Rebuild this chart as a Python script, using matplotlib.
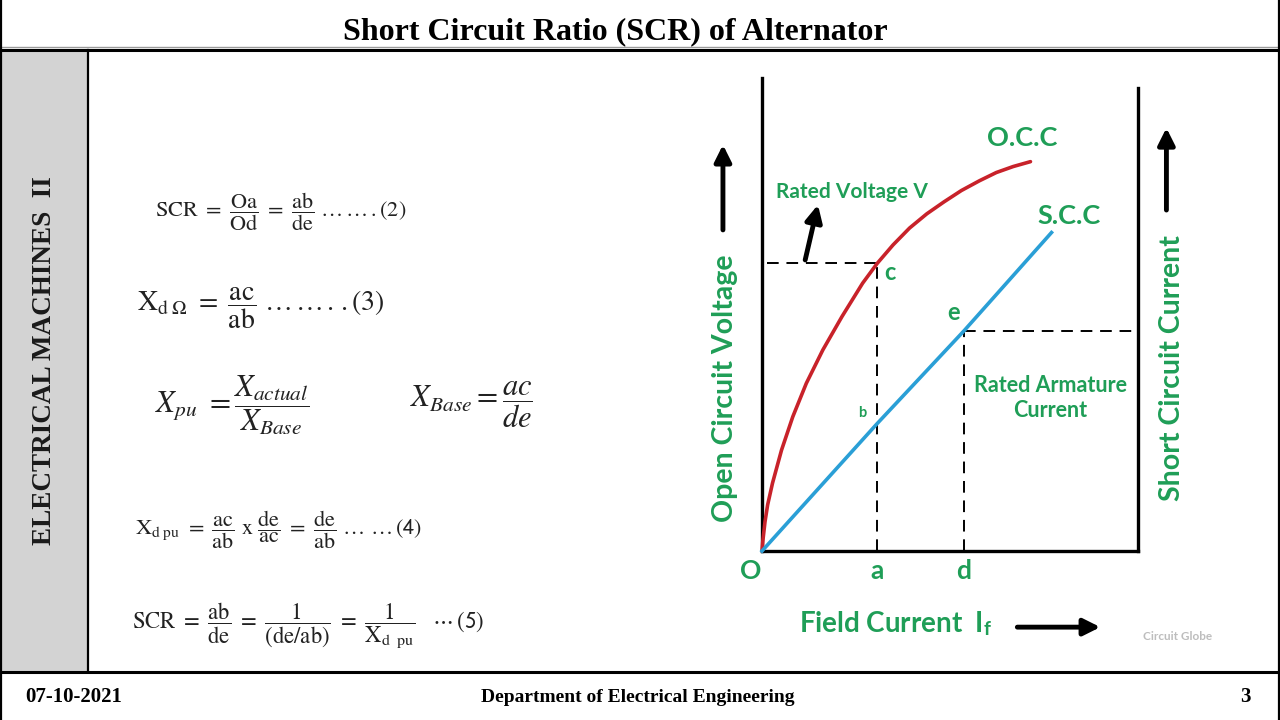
import matplotlib
matplotlib.use("Agg")
import matplotlib.pyplot as plt
from matplotlib.patches import Rectangle

plt.rcParams["mathtext.fontset"] = "stix"

# chart values (arbitrary units)
occ_if = [0, 0.02, 0.08, 0.15, 0.28, 0.52, 0.82, 1.18, 1.62, 2.13, 2.68, 3.07,
          3.49, 3.93, 4.39, 4.85, 5.31, 5.79, 6.24, 6.69, 7.15]
occ_v = [0, 0.25, 0.78, 1.23, 1.81, 2.69, 3.58, 4.47, 5.36, 6.25, 7.14, 7.67,
         8.16, 8.61, 8.99, 9.31, 9.61, 9.87, 10.09, 10.25, 10.38]
scc_if = [0, 3.07, 5.38, 7.71]
scc_i = [0, 3.40, 5.87, 8.49]
point_a = 3.07   # field current for rated voltage
point_c = 7.67   # rated voltage
point_d = 5.38   # field current for rated armature current
point_e = 5.87   # rated armature current
point_b = 3.40

green = "#1f9e57"
sans = "Lato"
serif = "Liberation Serif"

fig = plt.figure(figsize=(12.8, 7.2), dpi=100)

# slide frame, in pixel units
deco = fig.add_axes([0, 0, 1, 1])
deco.set_xlim(0, 1280)
deco.set_ylim(720, 0)
deco.axis("off")
deco.add_patch(Rectangle((0, 50), 88, 622, fc="#d3d3d3", ec="none"))
deco.plot([0, 1280], [46.5, 46.5], color="#9a9a9a", lw=1)
deco.plot([0, 1280], [49.5, 49.5], color="black", lw=2.2)
deco.plot([0, 1280], [672, 672], color="black", lw=2.2)
deco.plot([88, 88], [50, 672], color="black", lw=1.6)
deco.plot([1, 1], [0, 720], color="black", lw=1.6)
deco.plot([1278.5, 1278.5], [0, 720], color="black", lw=1.6)

deco.text(615, 32, "Short Circuit Ratio (SCR) of Alternator", ha="center", va="center",
          fontsize=23, fontweight="bold", family=serif, color="black")
deco.text(45, 361, "ELECTRICAL MACHINES  II", rotation=90, ha="center", va="center",
          fontsize=19.5, fontweight="bold", family=serif, color="#1a1a1a")
deco.text(25, 697, "07-10-2021", ha="left", va="center", fontsize=15, fontweight="bold",
          family=serif)
deco.text(638, 697, "Department of Electrical Engineering", ha="center", va="center",
          fontsize=14, fontweight="bold", family=serif)
deco.text(1245, 697, "3", ha="center", va="center", fontsize=15, fontweight="bold", family=serif)

# equations
eq_color = "#222222"
deco.text(155, 212, r"$\mathrm{SCR}\ =\ \dfrac{\mathrm{Oa}}{\mathrm{Od}}\ =\ \dfrac{\mathrm{ab}}{\mathrm{de}}\ \ldots\,\ldots\,.(2)$",
          ha="left", va="center", fontsize=16, color=eq_color)
deco.text(137, 308, r"$\mathrm{X}_{\mathrm{d}\ \Omega}\ =\ \dfrac{\mathrm{ac}}{\mathrm{ab}}\ \ldots\,\ldots\,.\,.(3)$",
          ha="left", va="center", fontsize=20, color=eq_color)
deco.text(155, 405, r"$X_{pu}\ = \dfrac{X_{actual}}{X_{Base}}$",
          ha="left", va="center", fontsize=22, color=eq_color)
deco.text(410, 405, r"$X_{Base} = \dfrac{ac}{de}$",
          ha="left", va="center", fontsize=22, color=eq_color)
deco.text(135, 530, r"$\mathrm{X}_{\mathrm{d\ pu}}\ =\ \dfrac{\mathrm{ac}}{\mathrm{ab}}\ \mathrm{x}\ \dfrac{\mathrm{de}}{\mathrm{ac}}\ =\ \dfrac{\mathrm{de}}{\mathrm{ab}}\ \ldots\ \ldots\,\mathsf{(4)}$",
          ha="left", va="center", fontsize=16, color=eq_color)
deco.text(132, 625, r"$\mathrm{SCR}\ =\ \dfrac{\mathrm{ab}}{\mathrm{de}}\ =\ \dfrac{1}{(\mathrm{de}/\mathrm{ab})}\ =\ \dfrac{1}{\mathrm{X}_{\mathrm{d\ \ pu}}}\ \ \ \cdots\,\mathsf{(5)}$",
          ha="left", va="center", fontsize=16.3, color=eq_color)

# characteristic chart
ax = fig.add_axes([762 / 1280, (720 - 551) / 720, (1137.5 - 762) / 1280, (551 - 78) / 720])
ax.set_facecolor("none")
ax.set_xlim(0, 10)
ax.set_ylim(0, 12.61)
ax.spines["top"].set_visible(False)
for side in ["left", "bottom", "right"]:
    ax.spines[side].set_linewidth(2.4)
    ax.spines[side].set_color("black")
ax.spines["right"].set_bounds(0, 12.35)
ax.set_xticks([])
ax.set_yticks([])

ax.plot(occ_if, occ_v, color="#c8222a", lw=2.6, solid_capstyle="round",
        solid_joinstyle="round", clip_on=False, zorder=3)
ax.plot(scc_if, scc_i, color="#2a9fd6", lw=2.6, clip_on=False, zorder=3)

dash = dict(color="black", lw=1.4, dashes=(6, 4), zorder=2)
ax.plot([0.13, point_a], [point_c, point_c], **dash)
ax.plot([point_a, point_a], [0, point_c], **dash)
ax.plot([point_d, 10], [point_e, point_e], **dash)
ax.plot([point_d, point_d], [0, point_e], **dash)

lab = dict(color=green, fontweight="bold", family=sans, ha="center", va="center")
ax.text(-0.29, -0.53, "O", fontsize=19, **lab)
ax.text(point_a, -0.53, "a", fontsize=19, **lab)
ax.text(point_d, -0.53, "d", fontsize=19, **lab)
ax.text(point_a + 0.34, point_c - 0.25, "c", fontsize=17, **lab)
ax.text(point_d - 0.29, point_e + 0.5, "e", fontsize=17, **lab)
ax.text(point_a - 0.4, point_b + 0.28, "b", fontsize=10.5, **lab)
ax.text(6.93, 11.0, "O.C.C", fontsize=19.5, **lab)
ax.text(8.19, 8.93, "S.C.C", fontsize=19.5, **lab)
ax.text(2.4, 9.57, "Rated Voltage V", fontsize=15, **lab)
ax.text(7.68, 4.08, "Rated Armature\nCurrent", fontsize=15.5, linespacing=1.2, **lab)
ax.text(-0.99, 4.35, "Open Circuit Voltage", rotation=90, fontsize=20.5, **lab)
ax.text(10.91, 4.88, "Short Circuit Current", rotation=90, fontsize=20.5, **lab)
ax.text(3.55, -1.95, r"Field Current  I$_\mathregular{f}$", fontsize=20, **lab)
ax.text(11.07, -2.27, "Circuit Globe", fontsize=8.5, color="#bdbdbd", fontweight="bold",
        family=sans, ha="center", va="center")

arrow = dict(arrowstyle="-|>", lw=3.5, color="black", mutation_scale=25, shrinkA=0, shrinkB=0)
ax.annotate("", xy=(1.49, 9.23), xytext=(1.15, 7.76), arrowprops=arrow, annotation_clip=False)
ax.annotate("", xy=(-1.04, 10.83), xytext=(-1.04, 8.56), arrowprops=arrow, annotation_clip=False)
ax.annotate("", xy=(10.77, 11.28), xytext=(10.77, 9.09), arrowprops=arrow, annotation_clip=False)
ax.annotate("", xy=(9.01, -2.03), xytext=(6.8, -2.03), arrowprops=arrow, annotation_clip=False)

fig.savefig("out.png", dpi=100)
